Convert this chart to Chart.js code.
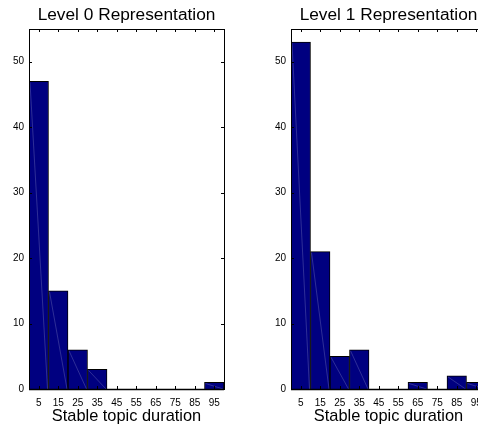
<!DOCTYPE html>
<html>
<head>
<meta charset="utf-8">
<script src="https://cdn.jsdelivr.net/npm/chart.js@4.4.1/dist/chart.umd.min.js"></script>
<style>
  html, body { margin: 0; padding: 0; background: #fff; overflow: hidden; }
  body { width: 478px; height: 429px; position: relative; }
  .panel { position: absolute; top: 0; }
  #p0 { left: 0; }
  #p1 { left: 250px; }
</style>
</head>
<body>
<div class="panel" id="p0"><canvas id="c0" width="240" height="429"></canvas></div>
<div class="panel" id="p1"><canvas id="c1" width="250" height="429"></canvas></div>
<script>
// bin centres of the histogram
const bins = ["5", "15", "25", "35", "45", "55", "65", "75", "85", "95"]
// counts per bin
const level0 = [47, 15, 6, 3, 0, 0, 0, 0, 0, 1]
const level1 = [53, 21, 5, 6, 0, 0, 1, 0, 2, 1]
const yTicks = [0, 10, 20, 30, 40, 50]
const yMax = 55
const titles = ["Level 0 Representation", "Level 1 Representation"]
const xTitle = "Stable topic duration"

const FONT = "'Liberation Sans', Arial, Helvetica, sans-serif"

// axis box, inward ticks, title and the faint patch diagonals
const boxPlugin = {
  id: "box",
  afterDatasetsDraw(chart) {
    const ctx = chart.ctx
    const meta = chart.getDatasetMeta(0)
    ctx.save()
    ctx.strokeStyle = "rgba(255,255,255,0.3)"
    ctx.lineWidth = 0.6
    meta.data.forEach((bar) => {
      if (Math.abs(bar.base - bar.y) < 1) return
      ctx.beginPath()
      ctx.moveTo(bar.x - bar.width / 2 + 1, bar.y + 1)
      ctx.lineTo(bar.x + bar.width / 2 - 1, bar.base)
      ctx.stroke()
    })
    ctx.restore()
  },
  afterDraw(chart, args, opts) {
    const ctx = chart.ctx
    const a = chart.chartArea
    const xs = chart.scales.x
    const ys = chart.scales.y
    ctx.save()
    ctx.strokeStyle = "#000"
    ctx.lineWidth = 1
    ctx.strokeRect(Math.round(a.left) + 0.5, Math.round(a.top) + 0.5,
      Math.round(a.right - a.left), Math.round(a.bottom - a.top))
    ctx.beginPath()
    ctx.lineWidth = 1.5
    ctx.moveTo(a.left, Math.round(a.bottom) + 0.5)
    ctx.lineTo(a.right, Math.round(a.bottom) + 0.5)
    ctx.stroke()
    // inner ticks
    ctx.lineWidth = 1
    ctx.beginPath()
    xs.ticks.forEach((t, i) => {
      const x = Math.round(xs.getPixelForTick(i)) + 0.5
      ctx.moveTo(x, a.bottom); ctx.lineTo(x, a.bottom - 3)
      ctx.moveTo(x, a.top); ctx.lineTo(x, a.top + 3)
    })
    ys.ticks.forEach((t) => {
      const y = Math.round(ys.getPixelForValue(t.value)) + 0.5
      ctx.moveTo(a.left, y); ctx.lineTo(a.left + 3, y)
      ctx.moveTo(a.right, y); ctx.lineTo(a.right - 3, y)
    })
    ctx.stroke()
    // title
    ctx.fillStyle = "#000"
    ctx.font = "17.3px " + FONT
    ctx.textAlign = "center"
    ctx.textBaseline = "alphabetic"
    ctx.fillText(opts.text, (a.left + a.right) / 2, 20)
    ctx.restore()
  }
}

function makeHist(id, values, title, axisLeft, padRight) {
  const ctx = document.getElementById(id).getContext("2d")
  return new Chart(ctx, {
    type: "bar",
    data: {
      labels: bins,
      datasets: [{
        data: values,
        backgroundColor: "#000080",
        borderColor: "#000",
        borderWidth: 1,
        barPercentage: 1,
        categoryPercentage: 1
      }]
    },
    options: {
      responsive: false,
      animation: false,
      events: [],
      layout: { padding: { top: 29, right: padRight, left: 0, bottom: 0 } },
      scales: {
        x: {
          grid: { display: false, drawTicks: false },
          border: { display: false },
          ticks: { color: "#000", font: { size: 10, family: FONT }, padding: 8, maxRotation: 0, autoSkip: false },
          title: { display: true, text: xTitle, color: "#000", font: { size: 16.4, family: FONT }, padding: { top: 0, bottom: 3 } },
          afterFit(scale) { scale.height = 40 }
        },
        y: {
          min: 0,
          max: yMax,
          grid: { display: false, drawTicks: false },
          border: { display: false },
          ticks: { color: "#000", font: { size: 10, family: FONT }, padding: 5 },
          afterBuildTicks(scale) { scale.ticks = yTicks.map((v) => ({ value: v })) },
          afterFit(scale) { scale.width = axisLeft }
        }
      },
      plugins: {
        legend: { display: false },
        tooltip: { enabled: false },
        box: { text: title }
      }
    },
    plugins: [boxPlugin]
  })
}

makeHist("c0", level0, titles[0], 29, 16)
makeHist("c1", level1, titles[1], 41, 14)
</script>
</body>
</html>
